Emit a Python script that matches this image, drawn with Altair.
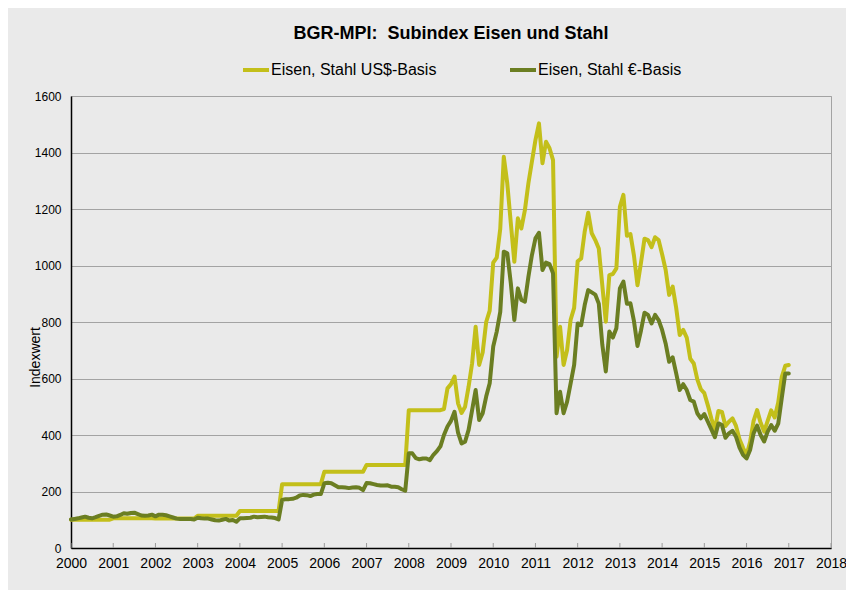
import altair as alt
import pandas as pd

# ---- data (monthly, Jan 2000 .. Jan 2017) ----
usd_2000_2003 = [
    100, 100, 100, 100, 100, 100, 100, 100, 100, 100, 100, 100,
    105, 105, 105, 105, 105, 105, 105, 105, 105, 105, 105, 105,
    104, 104, 104, 104, 104, 104, 104, 104, 104, 104, 104, 104,
    114, 114, 114, 114, 114, 114, 114, 114, 114, 114, 114, 114,
]
usd_2004_2007 = [
    131, 131, 131, 131, 131, 131, 131, 131, 131, 131, 131, 131,
    226, 226, 226, 226, 226, 226, 226, 226, 226, 226, 226, 226,
    270, 270, 270, 270, 270, 270, 270, 270, 270, 270, 270, 270,
    294, 294, 294, 294, 294, 294, 294, 294, 294, 294, 294, 294,
]
usd_2008_2011 = [
    488, 488, 488, 488, 488, 488, 488, 488, 488, 488, 492, 565,
    580, 607, 512, 478, 500, 571, 654, 783, 648, 692, 800, 840,
    1010, 1028, 1130, 1385, 1290, 1150, 1013, 1167, 1131, 1196, 1291, 1368,
    1444, 1503, 1362, 1438, 1415, 1373, 677, 783, 648, 701, 808, 850,
]
usd_2012_2017 = [
    1015, 1025, 1120, 1187, 1114, 1090, 1060, 930, 801, 966, 970, 990,
    1208, 1250, 1105, 1111, 1035, 930, 1010, 1095, 1090, 1065, 1100, 1090,
    1040, 985, 896, 925, 850, 754, 772, 745, 670, 653, 597, 562,
    548, 505, 458, 420, 485, 482, 432, 447, 459, 432, 385, 355,
    328, 375, 450, 488, 443, 412, 450, 487, 462, 515, 605, 645,
    648,
]

eur_2000_2003 = [
    101, 103, 105, 108, 111, 107, 105, 109, 114, 118, 119, 115,
    111, 112, 117, 123, 121, 124, 125, 120, 115, 114, 115, 118,
    112, 118, 118, 116, 112, 108, 104, 103, 103, 103, 103, 101,
    107, 105, 104, 104, 101, 98, 97, 100, 103, 97, 99, 93,
]
eur_2004_2007 = [
    105, 105, 106, 107, 111, 109, 110, 111, 109, 108, 106, 101,
    170, 173, 173, 174, 178, 186, 188, 187, 184, 189, 191, 191,
    229, 231, 229, 222, 215, 215, 214, 212, 214, 215, 213, 205,
    230, 229, 226, 223, 221, 221, 222, 217, 217, 215, 208, 203,
]
eur_2008_2011 = [
    335, 335, 318, 314, 317, 317, 311, 330, 343, 360, 400, 430,
    450, 482, 408, 370, 376, 418, 488, 559, 453, 477, 536, 583,
    713, 766, 836, 1049, 1043, 937, 807, 919, 878, 872, 960, 1037,
    1096, 1116, 984, 1010, 1005, 972, 477, 553, 477, 518, 583, 648,
]
eur_2012_2017 = [
    795, 789, 860, 913, 905, 897, 865, 720, 625, 766, 745, 778,
    919, 943, 865, 866, 803, 715, 770, 833, 825, 795, 825, 807,
    772, 724, 659, 675, 618, 559, 580, 559, 524, 518, 477, 459,
    474, 447, 420, 392, 441, 435, 390, 406, 415, 394, 355, 330,
    317, 347, 406, 433, 400, 377, 412, 435, 415, 440, 530, 618,
    618,
]

series_names = ["Eisen, Stahl US$-Basis", "Eisen, Stahl €-Basis"]
series_colors = ["#c3bf1a", "#6b7e22"]
year_ticks = list(range(2000, 2019))
y_ticks = list(range(0, 1601, 200))

usd = usd_2000_2003 + usd_2004_2007 + usd_2008_2011 + usd_2012_2017
eur = eur_2000_2003 + eur_2004_2007 + eur_2008_2011 + eur_2012_2017
dates = pd.date_range("2000-01-01", periods=len(usd), freq="MS")
t = dates.year + (dates.month - 1) / 12.0

df = pd.DataFrame({"t": t, series_names[0]: usd, series_names[1]: eur})

FONT = "Liberation Sans"

x_enc = alt.X(
    "t:Q",
    scale=alt.Scale(domain=[2000, 2018], nice=False, zero=False),
    axis=alt.Axis(
        values=year_ticks, format="d", ticks=False, grid=False,
        labelFontSize=14, labelPadding=8, labelFont=FONT,
        labelColor="black", domainColor="black", domainWidth=1.5,
        labelFlush=False, labelOverlap=False, title=None,
    ),
)

lines = (
    alt.Chart(df)
    .transform_fold(series_names, as_=["serie", "wert"])
    .mark_line(strokeWidth=4, strokeJoin="round", strokeCap="round")
    .encode(
        x=x_enc,
        y=alt.Y(
            "wert:Q",
            scale=alt.Scale(domain=[0, 1600], nice=False),
            axis=alt.Axis(
                values=y_ticks, format="d", ticks=False, grid=True,
                gridColor="#a3a3a3", gridWidth=1, labelFontSize=12,
                labelPadding=10, labelFont=FONT, labelColor="black",
                domainColor="black", domainWidth=1.5,
                title="Indexwert", titleFont=FONT, titleFontSize=14,
                titleFontWeight="normal", titleColor="black",
                titleX=-32, titleY=261, titleBaseline="alphabetic",
            ),
        ),
        color=alt.Color(
            "serie:N",
            scale=alt.Scale(domain=series_names, range=series_colors),
            legend=alt.Legend(
                orient="none", legendX=170, legendY=-41, direction="horizontal",
                title=None, symbolType="stroke", symbolStrokeWidth=4,
                symbolSize=676, labelFontSize=16, labelFont=FONT,
                labelColor="black", labelOffset=0, labelLimit=400,
                columnPadding=65, padding=0,
            ),
        ),
    )
)

ticks = (
    alt.Chart(pd.DataFrame({"t": year_ticks}))
    .mark_rule(color="#9a9a9a", strokeWidth=1)
    .encode(
        x=alt.X("t:Q"),
        y=alt.value(452),
        y2=alt.value(447),
    )
)

chart = (
    alt.layer(lines, ticks)
    .properties(
        width=760,
        height=452,
        autosize=alt.AutoSizeParams(type="none"),
        padding={"left": 63, "top": 88, "right": 15, "bottom": 42},
        background="#eaeaea",
        title=alt.TitleParams(
            "BGR-MPI:\u00a0 Subindex Eisen und Stahl",
            fontSize=18, fontWeight="bold", font=FONT, color="black",
            frame="group", anchor="middle", offset=0, dy=2,
            baseline="alphabetic",
        ),
    )
    .configure_view(stroke="#a3a3a3", strokeWidth=1)
)

chart.save("out.html", embed_options={"renderer": "svg", "actions": False})
